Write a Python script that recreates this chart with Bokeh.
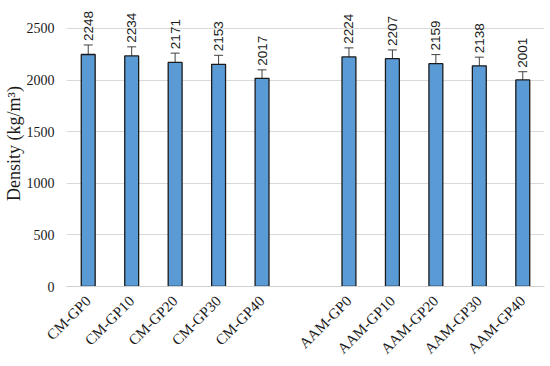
import math
from bokeh.plotting import figure
from bokeh.models import ColumnDataSource, FactorRange, Range1d, FixedTicker, Whisker, TeeHead
from bokeh.core.properties import value
from bokeh.embed import file_html
from bokeh.resources import INLINE

cm_labels = ["CM-GP0", "CM-GP10", "CM-GP20", "CM-GP30", "CM-GP40"]
cm_density = [2248, 2234, 2171, 2153, 2017]
cm_err = [92, 88, 90, 87, 82]

aam_labels = ["AAM-GP0", "AAM-GP10", "AAM-GP20", "AAM-GP30", "AAM-GP40"]
aam_density = [2224, 2207, 2159, 2138, 2001]
aam_err = [88, 85, 88, 84, 80]

y_ticks = [0, 500, 1000, 1500, 2000, 2500]

gap = " "
factors = cm_labels + [gap] + aam_labels
cats = cm_labels + aam_labels
vals = cm_density + aam_density
errs = cm_err + aam_err

src = ColumnDataSource(dict(
    x=cats, y=vals,
    upper=[v + e for v, e in zip(vals, errs)],
    lower=[v - e for v, e in zip(vals, errs)],
    txt=[str(v) for v in vals],
))

p = figure(width=550, height=366, x_range=FactorRange(*factors, range_padding=0),
           y_range=Range1d(0, 2771), output_backend="svg", toolbar_location=None,
           min_border_left=66, min_border_right=6, min_border_top=0, min_border_bottom=80)
p.outline_line_color = None
p.background_fill_color = "white"

p.vbar(x="x", top="y", width=0.32, source=src, fill_color="#5b9bd5",
       line_color="#1b1b1b", line_width=1.3)

w = Whisker(base="x", upper="upper", lower="lower", source=src,
            line_color="#404040", line_width=1,
            upper_head=TeeHead(size=9, line_color="#404040", line_width=1),
            lower_head=TeeHead(size=9, line_color="#404040", line_width=1))
p.add_layout(w)

p.text(x="x", y="upper", text="txt", source=src, angle=math.pi / 2,
       text_align="left", text_baseline="middle", y_offset=-4,
       text_font=value("Liberation Sans"), text_font_size="13.5px", text_color="#1a1a1a")

p.yaxis.ticker = FixedTicker(ticks=y_ticks)
p.yaxis.axis_line_color = None
p.yaxis.major_tick_line_color = None
p.yaxis.minor_tick_line_color = None
p.yaxis.major_label_text_font = "Liberation Serif"
p.yaxis.major_label_text_font_size = "14px"
p.yaxis.major_label_text_color = "#1a1a1a"
p.yaxis.major_label_standoff = 6
p.yaxis.axis_label = "Density (kg/m³)"
p.yaxis.axis_label_text_font = "Liberation Serif"
p.yaxis.axis_label_text_font_style = "normal"
p.yaxis.axis_label_text_font_size = "18px"
p.yaxis.axis_label_text_color = "#1a1a1a"
p.yaxis.axis_label_standoff = 0

p.xaxis.axis_line_color = "#d0d0d0"
p.xaxis.axis_line_width = 1.2
p.xaxis.major_tick_line_color = None
p.xaxis.minor_tick_line_color = None
p.xaxis.major_label_orientation = math.pi / 4
p.xaxis.major_label_text_font = "Liberation Serif"
p.xaxis.major_label_text_font_size = "15px"
p.xaxis.major_label_text_color = "#1a1a1a"
p.xaxis.major_label_standoff = 6

p.xgrid.grid_line_color = None
p.ygrid.grid_line_color = "#d9d9d9"
p.ygrid.grid_line_width = 1.2

open("out.html", "w").write(file_html(p, INLINE))
